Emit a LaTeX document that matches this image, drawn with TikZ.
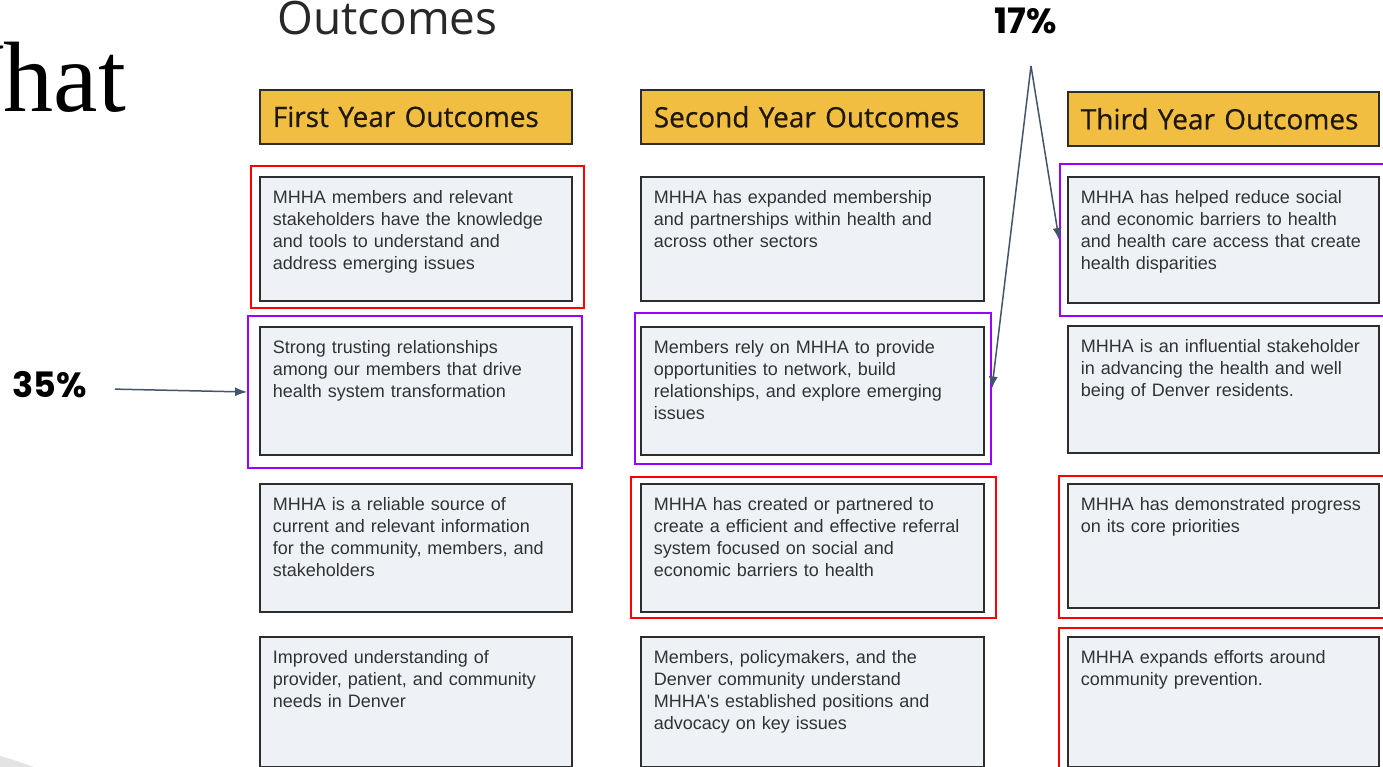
\documentclass[tikz,border=0pt]{standalone}
\usepackage{fontspec}
\usetikzlibrary{arrows.meta,fit}

\newfontfamily\bodyfont{Liberation Sans}
\newfontfamily\hdrfont[FakeBold=0.6]{Open Sans}
\newfontfamily\titlefont{Open Sans}
\newfontfamily\pctfont{Poppins}
\newfontfamily\whatfont{Liberation Serif}

\definecolor{hdrfill}{RGB}{241,190,66}
\definecolor{boxfill}{RGB}{238,242,247}
\definecolor{boxline}{RGB}{45,45,45}
\definecolor{bodytext}{RGB}{50,50,50}
\definecolor{hdrtext}{RGB}{30,24,10}
\definecolor{titlegray}{RGB}{40,40,40}
\definecolor{frred}{RGB}{255,0,0}
\definecolor{frpurple}{RGB}{153,0,255}
\definecolor{arrowslate}{RGB}{68,84,106}

\begin{document}
\begin{tikzpicture}[x=1pt,y=1pt,
  hdrbox/.style={draw=boxline,line width=1.6pt,fill=hdrfill,anchor=north west,align=left,
    inner xsep=13pt,inner ysep=0pt,minimum height=54pt,text=hdrtext,font=\hdrfont\fontsize{28}{32}\selectfont},
  outbox/.style={draw=boxline,line width=1.6pt,fill=boxfill,anchor=north west,align=left,
    inner xsep=13pt,inner ysep=0pt,text height=27pt,text=bodytext,font=\bodyfont\fontsize{18}{22}\selectfont},
  colA/.style={text width=286pt},
  colB/.style={text width=317pt},
  colC/.style={text width=285pt},
  redframe/.style={draw=frred,line width=1.8pt,inner sep=0pt},
  purpleframe/.style={draw=frpurple,line width=1.8pt,inner sep=0pt},
  pointer/.style={draw=arrowslate,line width=1.5pt,-{Latex[length=12pt,width=9pt]}},
  pct/.style={font=\pctfont\bfseries\fontsize{35}{40}\selectfont,text=black,inner sep=0pt}]

% page
\useasboundingbox (0,0) rectangle (1383,-767);
\fill[white] (0,0) rectangle (1383,-767);
\clip (0,0) rectangle (1383,-767);

% draw slide titles
\node[font=\whatfont\fontsize{100}{100}\selectfont,anchor=base east,inner sep=0pt] (what) at (126,-112) {What};
\node[font=\titlefont\fontsize{46}{50}\selectfont,text=titlegray,anchor=base west,inner sep=0pt] (title) at (277,-35) {Outcomes};

% draw slide corner
\fill[gray!22] (0,-756) .. controls (12,-759) and (22,-763) .. (34,-767) -- (0,-767) -- cycle;

% draw first year column
\begin{scope}[shift={(259,0)}]
\node[hdrbox,colA] (fyhead) at (0,-89) {First Year Outcomes};
\node[outbox,colA,text depth=97pt] (fy1) at (0,-176) {MHHA members and relevant\\stakeholders have the knowledge\\and tools to understand and\\address emerging issues};
\node[outbox,colA,text depth=101pt] (fy2) at (0,-326) {Strong trusting relationships\\among our members that drive\\health system transformation};
\node[outbox,colA,text depth=101pt] (fy3) at (0,-483) {MHHA is a reliable source of\\current and relevant information\\for the community, members, and\\stakeholders};
\node[outbox,colA,text depth=103pt] (fy4) at (0,-636) {Improved understanding of\\provider, patient, and community\\needs in Denver};
\end{scope}

% draw second year column
\begin{scope}[shift={(640,0)}]
\node[hdrbox,colB] (syhead) at (0,-89) {Second Year Outcomes};
\node[outbox,colB,text depth=97pt] (sy1) at (0,-176) {MHHA has expanded membership\\and partnerships within health and\\across other sectors};
\node[outbox,colB,text depth=101pt] (sy2) at (0,-326) {Members rely on MHHA to provide\\opportunities to network, build\\relationships, and explore emerging\\issues};
\node[outbox,colB,text depth=101pt] (sy3) at (0,-483) {MHHA has created or partnered to\\create a efficient and effective referral\\system focused on social and\\economic barriers to health};
\node[outbox,colB,text depth=103pt] (sy4) at (0,-636) {Members, policymakers, and the\\Denver community understand\\MHHA's established positions and\\advocacy on key issues};
\end{scope}

% draw third year column
\begin{scope}[shift={(1067,0)}]
\node[hdrbox,colC] (tyhead) at (0,-91) {Third Year Outcomes};
\node[outbox,colC,text depth=99pt] (ty1) at (0,-176) {MHHA has helped reduce social\\and economic barriers to health\\and health care access that create\\health disparities};
\node[outbox,colC,text depth=100pt] (ty2) at (0,-325) {MHHA is an influential stakeholder\\in advancing the health and well\\being of Denver residents.};
\node[outbox,colC,text depth=97pt] (ty3) at (0,-483) {MHHA has demonstrated progress\\on its core priorities};
\node[outbox,colC,text depth=103pt] (ty4) at (0,-636) {MHHA expands efforts around\\community prevention.};
\end{scope}

% draw highlight frames
\node[redframe,fit={(251,-166) (584,-308)}] (fyfr1) {};
\node[purpleframe,fit={(248,-316) (582,-468)}] (fyfr2) {};
\node[purpleframe,fit={(635,-313) (991,-464)}] (syfr2) {};
\node[redframe,fit={(631,-477) (996,-618)}] (syfr3) {};
\node[purpleframe,fit={(1060,-164) (1395,-316)}] (tyfr1) {};
\node[redframe,fit={(1059,-476) (1395,-618)}] (tyfr3) {};
\node[redframe,fit={(1059,-628) (1395,-785)}] (tyfr4) {};

% draw shares
\node[pct,anchor=base west] (pct17) at (994,-34) {17\%};
\node[pct,anchor=base west] (pct35) at (12,-397) {35\%};
\coordinate (apex) at (1031,-66);

\draw[pointer] ([xshift=28pt,yshift=-5pt]pct35.east) -- (fyfr2.west);
\draw[pointer] (apex) -- (syfr2.east);
\draw[pointer] (apex) -- (tyfr1.west);

\end{tikzpicture}
\end{document}
